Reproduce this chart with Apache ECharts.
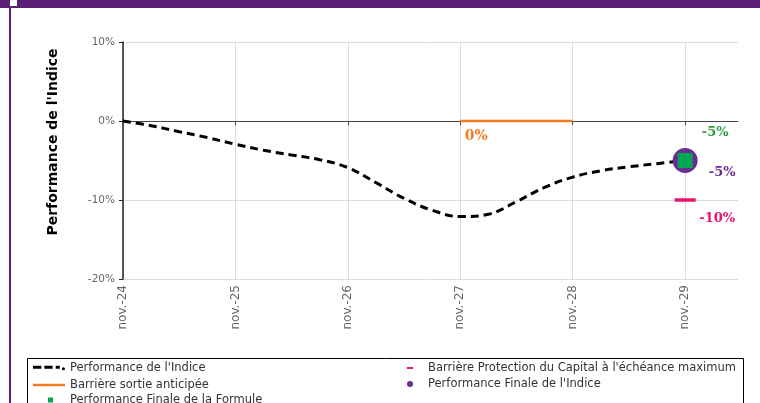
<!DOCTYPE html>
<html>
<head>
<meta charset="utf-8">
<script src="https://cdn.jsdelivr.net/npm/echarts@6/dist/echarts.min.js"></script>
<style>
  html, body { margin: 0; padding: 0; background: #fff; }
  #chart { width: 760px; height: 403px; }
</style>
</head>
<body>
<div id="chart"></div>
<script>
// ticks of the time axis (years after nov.-24)
var xTickLabels = ['nov.-24', 'nov.-25', 'nov.-26', 'nov.-27', 'nov.-28', 'nov.-29'];
var xMaxYears = 5.47;

// Performance de l'Indice, every quarter
var indiceYears = [0, 0.25, 0.5, 0.75, 1, 1.25, 1.5, 1.75, 2, 2.25, 2.5, 2.75, 3, 3.25, 3.5, 3.75, 4, 4.25, 4.5, 4.75, 5];
var indiceValues = [0, -0.6, -1.35, -2.1, -2.95, -3.7, -4.3, -4.9, -5.9, -7.8, -9.8, -11.3, -12.1, -11.8, -10.2, -8.4, -7.1, -6.3, -5.8, -5.4, -5.0];

// Barrière sortie anticipée (from nov.-27 to nov.-28)
var sortieYears = [3, 4];
var sortieValues = [0, 0];

// final values at nov.-29
var protectionYear = 5;
var protectionValue = -10;
var finaleIndiceValue = -5;
var finaleFormuleValue = -5;

var yTicks = [-20, -10, 0, 10];

var chart = echarts.init(document.getElementById('chart'));

var legendText = { fontFamily: 'DejaVu Sans', fontSize: 11.5, color: '#333' };

chart.setOption({
  animation: false,
  backgroundColor: '#fff',
  grid: { left: 123, right: 22, top: 42, bottom: 124 },
  graphic: [
    // purple frame of the page
    { type: 'rect', shape: { x: 0, y: 0, width: 760, height: 8 }, style: { fill: '#5b1f77' } },
    { type: 'rect', shape: { x: 10, y: 0, width: 7, height: 6 }, style: { fill: '#fff' } },
    { type: 'rect', shape: { x: 9, y: 8, width: 2, height: 395 }, style: { fill: '#5b1f77' } },
    // legend box
    { type: 'rect', shape: { x: 27.5, y: 358.5, width: 716, height: 60 }, style: { fill: 'none', stroke: '#000', lineWidth: 1 }, z: 0 },
    // y axis title
    {
      type: 'text', x: 53, y: 142, rotation: Math.PI / 2,
      style: {
        text: "Performance de l'Indice", fontFamily: 'DejaVu Sans', fontWeight: 'bold',
        fontSize: 14, fill: '#000', align: 'center', verticalAlign: 'middle'
      }
    }
  ],
  legend: [
    {
      left: 28, top: 357, orient: 'vertical', itemWidth: 32, itemHeight: 11, itemGap: 5,
      textStyle: legendText,
      data: [
        { name: "Performance de l'Indice", icon: 'path://M0,0h8v3h-8zM11,0h8v3h-8zM22,0h4v3h-4zM29.5,1.5a1.5,1.5 0 1,0 0.01,0z' },
        { name: 'Barrière sortie anticipée', icon: 'path://M0,0h32v2.5h-32z' }
      ]
    },
    {
      left: 43, top: 389, itemWidth: 29, itemHeight: 5, textStyle: legendText,
      data: [{ name: 'Performance Finale de la Formule', icon: 'path://M0,0h1v1h-1z' }]
    },
    {
      left: 402, top: 357, itemWidth: 26, itemHeight: 2, textStyle: legendText,
      data: [{ name: "Barrière Protection du Capital à l'échéance maximum", icon: 'path://M0,0h3v1h-3z' }]
    },
    {
      left: 402, top: 373, itemWidth: 26, itemHeight: 6, textStyle: legendText,
      data: [{ name: "Performance Finale de l'Indice", icon: 'circle' }]
    }
  ],
  xAxis: [
    {
      type: 'value', min: 0, max: xMaxYears, interval: 1, position: 'bottom',
      axisLine: { show: false, onZero: false },
      axisTick: { show: false },
      axisLabel: {
        rotate: 90, margin: 6, color: '#666', fontFamily: 'DejaVu Sans', fontSize: 12,
        showMaxLabel: false,
        formatter: function (v) { return xTickLabels[Math.round(v)] !== undefined && Math.abs(v - Math.round(v)) < 1e-6 ? xTickLabels[Math.round(v)] : ''; }
      },
      splitLine: { show: true, showMaxLine: false, lineStyle: { color: '#dcdcdc', width: 1 } }
    },
    {
      type: 'value', min: 0, max: xMaxYears, interval: 1, position: 'top',
      axisLine: { show: true, onZero: true, lineStyle: { color: '#444', width: 1.2 } },
      axisTick: { show: true, inside: true, length: 4, lineStyle: { color: '#444' }, customValues: [1, 2, 3, 4, 5] },
      axisLabel: { show: false },
      splitLine: { show: false }
    }
  ],
  yAxis: {
    type: 'value', min: -20, max: 10, interval: 10,
    axisLine: { show: true, onZero: false, lineStyle: { color: '#222', width: 1.5 } },
    axisTick: { show: true, length: 4, lineStyle: { color: '#222' } },
    axisLabel: {
      margin: 8, color: '#666', fontFamily: 'DejaVu Sans', fontSize: 10.5,
      formatter: function (v) { return yTicks.indexOf(v) >= 0 ? v + '%' : ''; }
    },
    splitLine: { show: true, lineStyle: { color: '#dcdcdc', width: 1 } }
  },
  series: [
    {
      name: "Performance de l'Indice", type: 'line', smooth: 0.4, symbol: 'none', z: 3,
      lineStyle: { color: '#000', width: 3, type: [8, 5] },
      itemStyle: { color: '#000' },
      data: indiceYears.map(function (t, i) { return [t, indiceValues[i]]; })
    },
    {
      name: 'Barrière sortie anticipée', type: 'line', symbol: 'none', z: 4,
      lineStyle: { color: '#f47b20', width: 2.5 },
      itemStyle: { color: '#f47b20' },
      data: sortieYears.map(function (t, i) { return [t, sortieValues[i]]; }),
      markPoint: {
        symbol: 'circle', symbolSize: 0,
        data: [{ coord: [sortieYears[0], sortieValues[0]], value: sortieValues[0] + '%' }],
        label: {
          show: true, position: 'inside', offset: [16, 15], color: '#f47b20',
          fontFamily: 'DejaVu Serif', fontWeight: 'bold', fontSize: 14,
          formatter: '{c}'
        }
      }
    },
    {
      name: "Barrière Protection du Capital à l'échéance maximum", type: 'scatter', z: 4,
      symbol: 'rect', symbolSize: [21, 3.5],
      itemStyle: { color: '#f0136e', opacity: 1 },
      label: {
        show: true, position: 'inside', offset: [32, 19], color: '#f0136e',
        fontFamily: 'DejaVu Serif', fontWeight: 'bold', fontSize: 13,
        formatter: function (p) { return p.value[1] + '%'; }
      },
      data: [[protectionYear, protectionValue]]
    },
    {
      name: "Performance Finale de l'Indice", type: 'scatter', z: 5,
      symbol: 'circle', symbolSize: 25,
      itemStyle: { color: '#6a2c91', opacity: 1 },
      label: {
        show: true, position: 'inside', offset: [37, 12], color: '#6a2c91',
        fontFamily: 'DejaVu Serif', fontWeight: 'bold', fontSize: 13,
        formatter: function (p) { return p.value[1] + '%'; }
      },
      data: [[protectionYear, finaleIndiceValue]]
    },
    {
      name: 'Performance Finale de la Formule', type: 'scatter', z: 6,
      symbol: 'rect', symbolSize: 15,
      itemStyle: { color: '#00a651', opacity: 1 },
      label: {
        show: true, position: 'inside', offset: [30, -28], color: '#2e9a3a',
        fontFamily: 'DejaVu Serif', fontWeight: 'bold', fontSize: 13,
        formatter: function (p) { return p.value[1] + '%'; }
      },
      data: [[protectionYear, finaleFormuleValue]]
    }
  ]
});
</script>
</body>
</html>
